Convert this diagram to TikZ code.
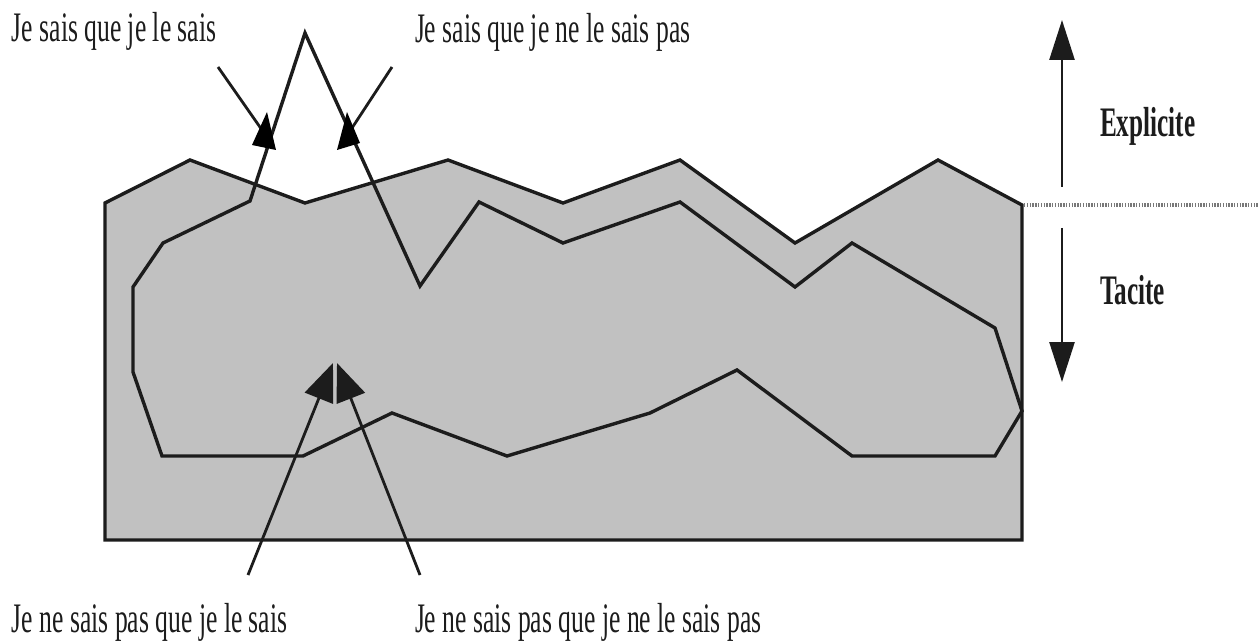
\documentclass[tikz,border=0pt]{standalone}
\usepackage{fontspec}
\setmainfont{Liberation Serif}
\usetikzlibrary{arrows.meta}
\definecolor{areagray}{RGB}{193,193,193}
\definecolor{inkc}{RGB}{28,28,28}
\definecolor{dotgray}{RGB}{120,120,120}
\newcommand{\lbl}[1]{\scalebox{0.61}[1]{\fontsize{42}{46}\selectfont #1}}
\newcommand{\lblb}[1]{\scalebox{0.60}[1]{\fontsize{42}{46}\selectfont\bfseries #1}}
\begin{document}
\begin{tikzpicture}[x=1pt,y=-1pt,
  outline/.style={draw=inkc,line width=3.4pt,line join=miter},
  labelarrow/.style={draw=inkc,line width=2.8pt},
  headfill/.style={fill=black},
  txt/.style={inner sep=0pt,outer sep=0pt,text=inkc,anchor=base west},
  bigtip/.style={-{Triangle[length=40pt,width=25pt]}},
  bottip/.style={-{Triangle[length=38pt,width=30pt]}}]
\useasboundingbox (0,0) rectangle (1258,644);
% outer area
\fill[areagray] (105,203) -- (190,160) -- (305,203) -- (448,160) -- (563,203) -- (680,160) -- (795,243) -- (938,160) -- (1022,205) -- (1022,540) -- (105,540) -- cycle;
\draw[outline] (105,540) -- (105,203) -- (190,160) -- (305,203) -- (448,160) -- (563,203) -- (680,160) -- (795,243) -- (938,160) -- (1022,205) -- (1022,540) -- cycle;
% dotted boundary
\coordinate (dotA) at (1024,205);
\coordinate (dotB) at (1258,205);
\draw[dotgray,line width=3.5pt,dash pattern=on 1.4pt off 1.4pt] (dotA) -- (dotB);
% inner loop
\draw[outline] (305,33) -- (420,286) -- (479,202) -- (563,243) -- (680,202) -- (795,287) -- (852,243) -- (995,328) -- (1022,411) -- (995,456) -- (852,456) -- (737,370) -- (650,413) -- (507,456) -- (392,413) -- (303,456) -- (162,456) -- (133,372) -- (133,287) -- (163,243) -- (250,201) -- cycle;
% labels
\node[txt] (l1) at (12,42) {\lbl{Je sais que je le sais}};
\node[txt] (l2) at (415,43) {\lbl{Je sais que je ne le sais pas}};
\node[txt] (l3) at (12,632) {\lbl{Je ne sais pas que je le sais}};
\node[txt] (l4) at (415,632) {\lbl{Je ne sais pas que je ne le sais pas}};
\node[txt] (ex) at (1100,137) {\lblb{Explicite}};
\node[txt] (ta) at (1100,305) {\lblb{Tacite}};
% top label arrows
\coordinate (a1s) at (218,67);
\coordinate (a1e) at (262,130);
\coordinate (a2s) at (392,67);
\coordinate (a2e) at (352,128);
\draw[labelarrow] (a1s) -- (a1e);
\draw[labelarrow] (a2s) -- (a2e);
\fill[headfill] (267,112) -- (252,145) -- (276,150) -- cycle;
\fill[headfill] (347,112) -- (337,150) -- (360,143) -- cycle;
% bottom label arrows
\coordinate (b1s) at (248,575);
\coordinate (b1e) at (333,363);
\coordinate (b2s) at (420,575);
\coordinate (b2e) at (337,363);
\draw[labelarrow,bottip] (b1s) -- (b1e);
\draw[labelarrow,bottip] (b2s) -- (b2e);
% vertical arrows
\coordinate (upS) at (1062,187);
\coordinate (upE) at (1062,20);
\coordinate (dnS) at (1062,228);
\coordinate (dnE) at (1062,382);
\draw[draw=inkc,line width=2.6pt,bigtip] (upS) -- (upE);
\draw[draw=inkc,line width=2.6pt,bigtip] (dnS) -- (dnE);
\end{tikzpicture}
\end{document}
